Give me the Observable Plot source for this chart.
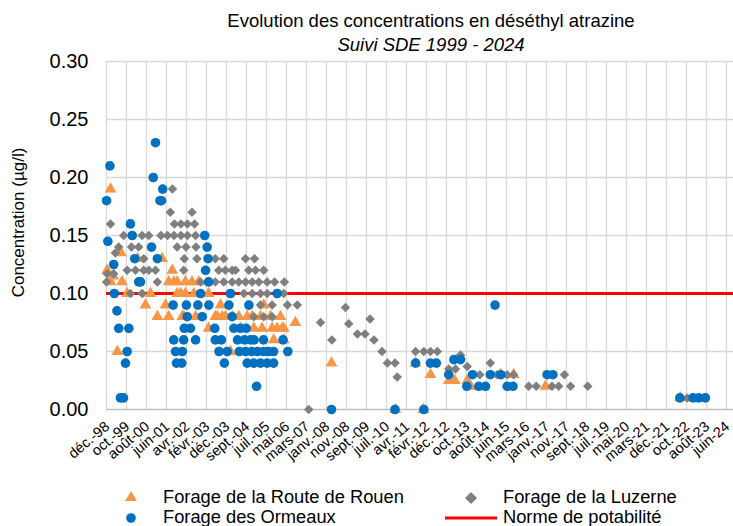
<!DOCTYPE html>
<html>
<head>
<meta charset="utf-8">
<script src="https://cdn.jsdelivr.net/npm/d3@7"></script>
<script src="https://cdn.jsdelivr.net/npm/@observablehq/plot@0.6"></script>
<style>
  html, body { margin: 0; padding: 0; background: #fff; }
  #wrap { position: relative; width: 733px; height: 526px; overflow: hidden; font-family: "Liberation Sans", Arial, sans-serif; color: #000; }
  .title { position: absolute; left: 431px; transform: translateX(-50%); white-space: nowrap; font-size: 18.5px; line-height: 22px; }
  .legend { position: absolute; font-size: 18.3px; line-height: 20px; white-space: nowrap; }
  .legend svg { position: absolute; overflow: visible; }
</style>
</head>
<body>
<div id="wrap">
  <div class="title" style="top:10px">Evolution des concentrations en déséthyl atrazine</div>
  <div class="title" style="top:34px;font-style:italic">Suivi SDE 1999 - 2024</div>
</div>
<script>
// ---- Data ----
const seriesNames = ["Forage de la Route de Rouen", "Forage de la Luzerne", "Forage des Ormeaux", "Norme de potabilité"];
const seriesColors = ["#F79646", "#7F7F7F", "#0070C0", "#FF0000"];
const normeValue = 0.10;

const yTicks = [0, 0.05, 0.10, 0.15, 0.20, 0.25, 0.30];

const xTickDates = ["1998-12-31","1999-10-27","2000-08-22","2001-06-18","2002-04-14","2003-02-08","2003-12-05","2004-09-30",
  "2005-07-27","2006-05-23","2007-03-19","2008-01-13","2008-11-08","2009-09-04","2010-07-01","2011-04-27",
  "2012-02-21","2012-12-17","2013-10-13","2014-08-09","2015-06-05","2016-03-31","2017-01-25","2017-11-21",
  "2018-09-17","2019-07-14","2020-05-09","2021-03-05","2021-12-30","2022-10-26","2023-08-22","2024-06-17"];
const xTickLabels = ["déc.-98","oct.-99","août-00","juin-01","avr.-02","févr.-03","déc.-03","sept.-04",
  "juil.-05","mai-06","mars-07","janv.-08","nov.-08","sept.-09","juil.-10","avr.-11",
  "févr.-12","déc.-12","oct.-13","août-14","juin-15","mars-16","janv.-17","nov.-17",
  "sept.-18","juil.-19","mai-20","mars-21","déc.-21","oct.-22","août-23","juin-24"];
const xDomain = ["1998-12-31", "2024-09-30"];

const rouen = [
  ["1999-01-10",0.12],["1999-03-01",0.19],["1999-03-01",0.11],["1999-04-14",0.115],["1999-06-12",0.05],
  ["1999-08-06",0.135],["1999-08-21",0.11],["1999-11-06",0.10],["2000-04-09",0.13],["2000-08-06",0.09],
  ["2000-10-21",0.10],["2001-02-01",0.08],["2001-04-12",0.13],["2001-06-03",0.09],["2001-07-21",0.11],
  ["2001-07-21",0.08],["2001-09-12",0.12],["2001-10-06",0.11],["2001-11-25",0.11],["2001-11-25",0.10],
  ["2002-01-15",0.10],["2002-02-10",0.08],["2002-03-03",0.08],["2002-03-28",0.11],["2002-03-28",0.10],
  ["2002-07-06",0.11],["2002-08-01",0.10],["2002-08-28",0.08],["2002-10-15",0.11],["2003-03-12",0.10],
  ["2003-03-12",0.07],["2003-06-20",0.08],["2003-07-18",0.08],["2003-09-06",0.09],["2003-10-01",0.08],
  ["2003-11-18",0.08],["2004-02-03",0.05],["2004-03-03",0.08],["2004-06-06",0.08],["2004-07-01",0.07],
  ["2004-10-10",0.08],["2004-12-25",0.08],["2005-01-18",0.07],["2005-04-28",0.08],["2005-05-21",0.07],
  ["2005-06-15",0.09],["2005-09-25",0.08],["2005-10-20",0.07],["2005-11-12",0.06],["2006-01-03",0.07],
  ["2006-02-21",0.08],["2006-03-18",0.07],["2006-04-12",0.07],["2006-04-12",0.06],["2006-10-03",0.075],
  ["2008-03-28",0.04],["2010-11-12",0.0],["2011-09-10",0.04],["2012-01-06",0.0],["2012-04-20",0.03],
  ["2013-01-20",0.025],["2013-04-18",0.025],["2013-10-24",0.025],["2013-12-12",0.02],["2015-03-06",0.03],
  ["2015-09-20",0.03],["2017-01-10",0.02],["2022-07-24",0.01]
];

const luzerne = [
  ["2001-09-15",0.19],
  ["2001-08-15",0.17],["2002-07-06",0.17],
  ["1999-03-01",0.16],["2001-10-15",0.16],["2002-01-21",0.16],["2002-04-28",0.16],["2002-08-12",0.16],
  ["1999-09-15",0.15],["2000-06-18",0.15],["2000-09-25",0.15],["2001-03-28",0.15],["2001-07-03",0.15],
  ["2001-10-09",0.15],["2002-01-21",0.15],["2002-04-28",0.15],["2002-08-28",0.15],
  ["1999-07-02",0.14],["2000-01-10",0.14],["2000-04-27",0.14],["2001-11-25",0.14],["2002-04-06",0.14],["2002-09-03",0.14],
  ["1999-05-12",0.135],
  ["2000-07-12",0.13],["2002-03-12",0.13],["2002-09-18",0.13],["2003-06-20",0.13],["2003-10-25",0.13],
  ["2004-09-15",0.13],["2005-01-28",0.13],
  ["1999-11-06",0.12],["2000-03-10",0.12],["2000-07-12",0.12],["2000-09-25",0.12],["2001-01-04",0.12],
  ["2002-03-03",0.12],["2003-08-10",0.12],["2003-11-18",0.12],["2004-02-28",0.12],["2004-04-18",0.12],
  ["2004-11-03",0.12],["2005-02-12",0.12],["2005-06-15",0.12],
  ["1999-01-10",0.117],["1999-04-18",0.117],
  ["1999-01-01",0.11],["2001-02-01",0.11],["2002-11-10",0.11],["2003-03-09",0.11],["2003-06-20",0.11],
  ["2003-10-25",0.11],["2004-02-28",0.11],["2004-06-06",0.11],["2004-09-15",0.11],["2004-12-25",0.11],
  ["2005-04-03",0.11],["2005-08-06",0.11],["2005-11-25",0.11],["2006-04-20",0.11],
  ["1999-12-25",0.10],["2000-06-18",0.10],["2004-08-21",0.10],["2004-12-25",0.10],["2005-04-28",0.10],
  ["2005-08-06",0.10],["2006-04-12",0.10],
  ["2005-04-28",0.09],["2005-10-20",0.09],["2006-06-06",0.09],["2006-11-01",0.09],
  ["2005-01-18",0.08],["2005-06-15",0.08],["2005-10-20",0.08],
  ["1999-09-15",0.01],
  ["2007-04-21",0.0],["2007-10-15",0.075],["2008-04-03",0.06],["2008-10-24",0.088],["2008-12-12",0.074],
  ["2009-04-21",0.065],["2009-08-12",0.065],["2009-10-27",0.078],["2009-12-25",0.06],["2010-04-25",0.05],
  ["2010-07-15",0.04],["2010-11-06",0.04],["2010-12-09",0.028],["2011-09-10",0.05],["2012-01-12",0.05],
  ["2012-04-20",0.05],["2012-08-01",0.05],["2013-01-20",0.035],["2013-05-01",0.035],["2013-07-15",0.047],
  ["2013-10-24",0.037],["2014-05-01",0.03],["2014-10-06",0.04],["2015-01-15",0.03],["2015-03-06",0.03],
  ["2015-06-15",0.03],["2015-09-21",0.03],["2016-05-03",0.02],["2016-08-24",0.02],["2017-04-18",0.02],
  ["2017-07-27",0.02],["2017-10-21",0.03],["2018-01-21",0.02],["2018-10-06",0.02],["2022-11-06",0.01]
];

const ormeaux = [
  ["1999-01-01",0.18],["1999-01-20",0.145],["1999-02-20",0.21],["1999-04-18",0.125],["1999-04-27",0.10],
  ["1999-06-06",0.085],["1999-07-02",0.07],["1999-07-28",0.01],["1999-09-12",0.01],["1999-10-12",0.04],
  ["1999-11-06",0.05],["1999-12-01",0.07],["1999-12-25",0.16],["2000-01-21",0.15],["2000-02-27",0.13],
  ["2000-04-27",0.11],["2000-05-24",0.11],["2000-11-06",0.14],["2000-12-01",0.20],["2001-01-04",0.23],
  ["2001-02-01",0.13],["2001-03-12",0.18],["2001-04-04",0.18],["2001-04-22",0.19],["2001-09-25",0.09],
  ["2001-10-05",0.06],["2001-11-01",0.05],["2001-11-15",0.04],["2002-02-01",0.04],["2002-02-10",0.05],
  ["2002-03-03",0.06],["2002-03-12",0.07],["2002-04-12",0.09],["2002-04-25",0.08],["2002-06-12",0.07],
  ["2002-08-28",0.06],["2002-10-01",0.09],["2002-11-10",0.10],["2002-12-05",0.08],["2003-01-12",0.15],
  ["2003-01-25",0.12],["2003-02-18",0.14],["2003-03-03",0.13],["2003-03-12",0.11],["2003-03-15",0.09],
  ["2003-06-12",0.07],["2003-06-20",0.06],["2003-08-15",0.05],["2003-09-20",0.06],["2003-11-03",0.04],
  ["2003-12-15",0.05],["2004-01-10",0.09],["2004-02-03",0.10],["2004-02-28",0.08],["2004-03-25",0.07],
  ["2004-05-18",0.06],["2004-09-01",0.06],["2004-12-01",0.06],["2005-01-21",0.06],["2005-06-12",0.06],
  ["2004-06-15",0.05],["2004-09-15",0.05],["2004-12-15",0.05],["2005-03-12",0.05],["2005-06-12",0.05],
  ["2005-08-25",0.05],["2005-11-10",0.05],
  ["2004-10-10",0.04],["2005-01-18",0.04],["2005-04-28",0.04],["2005-08-06",0.04],["2005-11-10",0.04],
  ["2004-07-01",0.07],["2004-09-25",0.07],["2004-11-05",0.09],["2005-02-28",0.02],
  ["2006-01-03",0.10],["2006-04-01",0.06],["2006-06-12",0.05],
  ["2008-03-28",0.0],["2010-11-05",0.0],["2012-01-12",0.0],["2011-09-10",0.04],["2012-04-20",0.04],
  ["2012-07-18",0.04],["2013-01-20",0.03],["2013-04-07",0.043],["2013-07-15",0.043],["2013-10-18",0.02],
  ["2014-01-12",0.03],["2014-04-15",0.02],["2014-07-25",0.02],["2014-10-05",0.03],["2014-12-15",0.09],
  ["2015-03-12",0.03],["2015-06-15",0.02],["2015-09-10",0.02],["2017-02-03",0.03],["2017-05-01",0.03],
  ["2022-07-18",0.01],["2023-02-01",0.01],["2023-04-28",0.01],["2023-08-05",0.01]
];

// ---- Build ----
const toRows = list => list.map(([d, v]) => ({date: new Date(d), value: v}));
const tickDates = xTickDates.map(d => new Date(d));
const labelByTime = new Map(tickDates.map((d, i) => [+d, xTickLabels[i]]));
const grid = "#D9D9D9";

const chart = Plot.plot({
  width: 733,
  height: 526,
  marginTop: 61,
  marginBottom: 117,
  marginLeft: 106,
  marginRight: 0,
  style: {fontFamily: "'Liberation Sans', Arial, sans-serif", background: "transparent", overflow: "visible"},
  x: {type: "utc", domain: xDomain.map(d => new Date(d))},
  y: {domain: [0, 0.30]},
  marks: [
    Plot.gridY(yTicks.filter(t => t > 0), {stroke: grid, strokeOpacity: 1, strokeWidth: 1.3}),
    Plot.gridX(tickDates, {stroke: grid, strokeOpacity: 1, strokeWidth: 1.3}),
    Plot.ruleY([0], {stroke: "#BFBFBF", strokeWidth: 1.6}),
    Plot.axisY(yTicks, {tickFormat: d3.format(".2f"), tickSize: 0, tickPadding: 18, fontSize: 20, label: null, fill: "#000"}),
    Plot.axisX(tickDates, {tickFormat: d => labelByTime.get(+d), tickRotate: -40, tickSize: 0, tickPadding: 15, dx: 1, fontSize: 14.5, label: null, fill: "#000"}),
    Plot.ruleY([normeValue], {stroke: seriesColors[3], strokeWidth: 3}),
    Plot.dot(toRows(rouen), {x: "date", y: "value", symbol: "triangle", r: 4.4, fill: seriesColors[0]}),
    Plot.dot(toRows(luzerne), {x: "date", y: "value", symbol: "diamond2", r: 4.3, fill: seriesColors[1]}),
    Plot.dot(toRows(ormeaux), {x: "date", y: "value", symbol: "circle", r: 4.8, fill: seriesColors[2]}),
    Plot.text(["Concentration (µg/l)"], {frameAnchor: "left", textAnchor: "middle", rotate: -90, dx: -88, dy: -13, fontSize: 17, fill: "#000"})
  ]
});
chart.style.position = "absolute";
chart.style.left = "0px";
chart.style.top = "0px";
const wrap = document.getElementById("wrap");
wrap.insertBefore(chart, wrap.firstChild);

// ---- Legend (HTML below the plot area) ----
const legendItems = [
  {name: seriesNames[0], color: seriesColors[0], shape: "triangle", left: 121, top: 487},
  {name: seriesNames[2], color: seriesColors[2], shape: "circle", left: 121, top: 507},
  {name: seriesNames[1], color: seriesColors[1], shape: "diamond", left: 440, top: 487},
  {name: seriesNames[3], color: seriesColors[3], shape: "line", left: 440, top: 507}
];
for (const it of legendItems) {
  const div = document.createElement("div");
  div.className = "legend";
  div.style.left = it.left + "px";
  div.style.top = it.top + "px";
  let sym;
  if (it.shape === "triangle") sym = `<svg width="20" height="20" style="left:0;top:0"><path d="M10,4L16,14L4,14Z" fill="${it.color}"/></svg>`;
  else if (it.shape === "circle") sym = `<svg width="20" height="20" style="left:0;top:0"><circle cx="10" cy="11" r="4.8" fill="${it.color}"/></svg>`;
  else if (it.shape === "diamond") sym = `<svg width="20" height="20" style="left:0;top:0"><path d="M31,5L37,11L31,17L25,11Z" fill="${it.color}"/></svg>`;
  else sym = `<svg width="60" height="20" style="left:0;top:0"><line x1="5" x2="57" y1="11" y2="11" stroke="${it.color}" stroke-width="3"/></svg>`;
  const textLeft = it.shape === "triangle" || it.shape === "circle" ? 42 : 63;
  div.innerHTML = sym + `<span style="position:absolute;left:${textLeft}px;top:0">${it.name}</span>`;
  wrap.appendChild(div);
}
</script>
</body>
</html>
